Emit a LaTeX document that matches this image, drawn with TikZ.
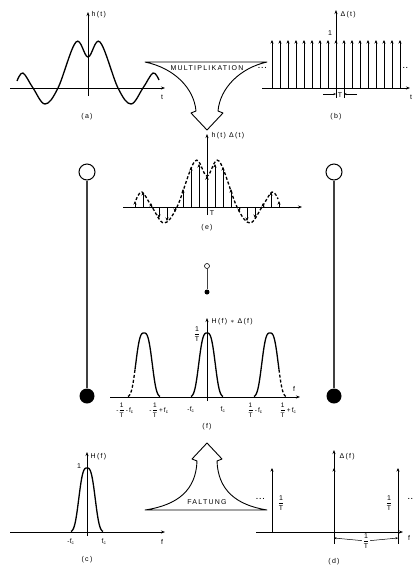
\documentclass[tikz,border=0pt]{standalone}
\usepackage{amsmath}
\usepackage{fontspec}
\setmainfont{Liberation Sans}
\newfontfamily\lblfont[LetterSpace=18]{Liberation Sans}
\newfontfamily\tightfont[LetterSpace=4]{Liberation Sans}
\usetikzlibrary{arrows.meta}

\newcommand{\invT}{$\dfrac{\text{1}}{\text{T}}$}
\newcommand{\fc}{f$_\text{c}$}

\begin{document}
\begin{tikzpicture}[x=1pt, y=-1pt,
    every node/.style={font={\lblfont\fontsize{7}{8}\selectfont}, inner sep=0.5pt},
    flbl/.style={font={\tightfont\fontsize{6.5}{7.5}\selectfont}},
    axis/.style={line width=0.7pt, -{Stealth[length=4pt,width=3pt]}},
    curve/.style={line width=1.3pt},
    imp/.style={line width=0.8pt, -{Stealth[length=3.5pt,width=3pt]}},
    dimarr/.style={line width=0.5pt, -{Stealth[length=2.5pt,width=2pt]}},
    ring/.style={draw, circle, line width=1pt, fill=white, inner sep=0pt, minimum size=16pt},
    ball/.style={circle, fill, inner sep=0pt, minimum size=15pt},
    rod/.style={line width=1.3pt, black!75},
    funnel/.style={line width=0.9pt, line join=round},
    declare function={bmp(\x)=64*exp(-(abs(\x)/9.5)^3);},
    hcurve/.pic={\draw[pic actions, curve] plot[smooth, tension=0.6] coordinates
        {(-71,-7) (-65,-15) (-55,0) (-43,16) (-30,0) (-12,-46) (0,-31)
         (12,-46) (30,0) (43,16) (55,0) (65,-15) (71,-8)};}]
    \useasboundingbox (0,0) rectangle (414,566);

    % (a) h(t)
    \draw[axis] (10,88) -- (165,88);
    \draw[axis] (88,96) -- (88,12);
    \pic at (88,88) {hcurve};
    \node[anchor=west] (ha) at (91,15) {h(t)};
    \node (ta) at (162,97) {t};
    \node (capa) at (87,117) {(a)};

    % (b) impulse train
    \draw[axis] (262,88) -- (410,88);
    \draw[axis] (336,96) -- (336,10);
    \foreach \k in {-8,...,8}
        \draw[imp] ({336+8*\k},88) -- ++(0,-48);
    \node[anchor=west] (db) at (340,15) {Δ(t)};
    \node (oneb) at (330,33) {1};
    \node (tb) at (411,97) {t};
    \node (dotbl) at (263,68) {\textbf{...}};
    \node (dotbr) at (406,68) {\textbf{..}};
    \coordinate (ta0) at (336,94);
    \coordinate (ta1) at (344,94);
    \draw[line width=0.5pt] (336,88) -- (336,98) (344,88) -- (344,98);
    \node (Tb) at (340,95) {T};
    \draw[dimarr] (323,94) -- (ta0);
    \draw[dimarr] (357,94) -- (ta1);
    \node (capb) at (336,117) {(b)};

    % Multiplikation
    \draw[funnel] (145,62) -- (267,62)
        .. controls (240,68) and (220,88) .. (218,111) -- (223,113) -- (207,130)
        -- (191,113) -- (196,111) .. controls (194,88) and (174,68) .. (145,62) -- cycle;
    \node (mult) at (207,68) {MULTIPLIKATION};

    % (e) product
    \draw[axis] (123,207) -- (302,207);
    \draw[axis] (207,215) -- (207,134);
    \pic[dash pattern=on 3pt off 2pt] at (207,207) {hcurve};
    \foreach \k/\v in {0/31,1/43,2/40,3/18,4/-5,5/-14,6/-11,7/4,8/15,9/6} {
        \draw[imp] ({207+8*\k},207) -- ++(0,{-(\v)});
        \draw[imp] ({207-8*\k},207) -- ++(0,{-(\v)});
    }
    \node[anchor=west] (hde) at (211,136) {h(t) Δ(t)};
    \node (Te) at (212,213) {T};
    \node (cape) at (207,228) {(e)};

    % small pendulum
    \node[ring, line width=0.6pt, minimum size=5pt] (st) at (207,266) {};
    \node[ball, minimum size=5pt] (sb) at (207,292) {};
    \draw[line width=0.8pt, black!75] (st) -- (sb);

    % big pendulums
    \node[ring] (lt) at (87,172) {};
    \node[ball] (lb) at (87,396) {};
    \draw[rod] (lt) -- (lb);
    \node[ring] (rt) at (334,172) {};
    \node[ball] (rb) at (334,396) {};
    \draw[rod] (rt) -- (rb);

    % (f) convolution
    \draw[axis] (110,397) -- (300,397);
    \draw[axis] (207,401) -- (207,318);
    \draw[curve, shift={(207,397)}] plot[domain=-16:16, samples=49] (\x,{-bmp(\x)});
    \draw[curve, dash pattern=on 3pt off 2pt, shift={(144,397)}] plot[domain=-16:-9, samples=13] (\x,{-bmp(\x)});
    \draw[curve, shift={(144,397)}] plot[domain=-9:16, samples=45] (\x,{-bmp(\x)});
    \draw[curve, shift={(270,397)}] plot[domain=-16:9, samples=45] (\x,{-bmp(\x)});
    \draw[curve, dash pattern=on 3pt off 2pt, shift={(270,397)}] plot[domain=9:16, samples=13] (\x,{-bmp(\x)});
    \node[anchor=west] (hdf) at (211,322) {H(f) $*$ Δ(f)};
    \node (itf) at (197,334) {\invT};
    \node (ff) at (294,389) {f};
    \node[flbl] (l1) at (125,410) {-\invT\,-\,\fc};
    \node[flbl] (l2) at (159,410) {-\invT\,+\,\fc};
    \node[flbl] (l3) at (191,410) {-\fc};
    \node[flbl] (l4) at (223,410) {\fc};
    \node[flbl] (l5) at (255,410) {\invT\,-\,\fc};
    \node[flbl] (l6) at (288,410) {\invT\,+\,\fc};
    \node (capf) at (207,427) {(f)};

    % Faltung
    \draw[funnel] (145,510) -- (267,510)
        .. controls (236,505) and (218,490) .. (217,461) -- (222,459) -- (207,443)
        -- (192,459) -- (197,461) .. controls (196,490) and (178,505) .. (145,510) -- cycle;
    \node (falt) at (207,502) {FALTUNG};

    % (c) H(f)
    \draw[axis] (10,532) -- (165,532);
    \draw[axis] (87,536) -- (87,452);
    \draw[curve, shift={(87,532)}] plot[domain=-16:16, samples=49] (\x,{-bmp(\x)});
    \node[anchor=west] (Hc) at (90,457) {H(f)};
    \node (onec) at (79,466) {1};
    \node (fcf) at (162,542) {f};
    \node[flbl] (mfc) at (71,542) {-\fc};
    \node[flbl] (pfc) at (104,542) {\fc};
    \node (capc) at (87,560) {(c)};

    % (d) Delta(f)
    \draw[axis] (256,532) -- (403,532);
    \draw[axis] (334,536) -- (334,450);
    \foreach \p in {272,334,398}
        \draw[imp] (\p,532) -- (\p,468);
    \node[anchor=west] (Dd) at (339,457) {Δ(f)};
    \node (itl) at (281,503) {\invT};
    \node (itr) at (389,503) {\invT};
    \node (dotdl) at (261,499) {\textbf{...}};
    \node (dotdr) at (411,499) {\textbf{..}};
    \node (fd) at (409,538) {f};
    \draw[line width=0.5pt] (334,532) -- (334,544) (398,532) -- (398,544);
    \coordinate (da0) at (334,538);
    \coordinate (da1) at (398,538);
    \node[fill=white] (itd) at (366,541) {\invT};
    \draw[dimarr] (itd) -- (da0);
    \draw[dimarr] (itd) -- (da1);
    \node (capd) at (334,562) {(d)};
\end{tikzpicture}
\end{document}
